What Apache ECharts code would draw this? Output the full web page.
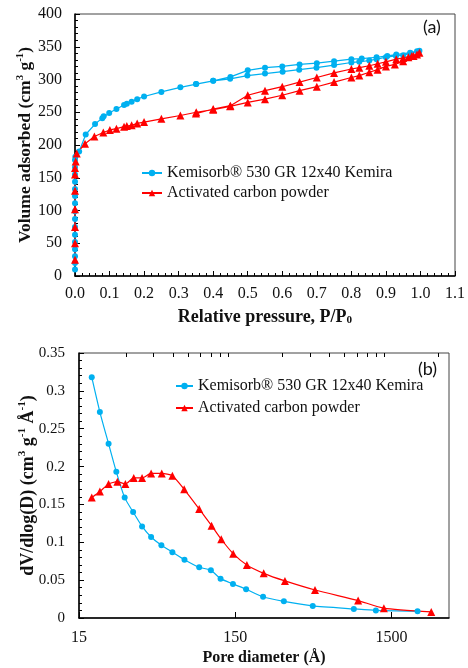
<!DOCTYPE html>
<html>
<head>
<meta charset="utf-8">
<script src="https://cdn.jsdelivr.net/npm/echarts@6/dist/echarts.min.js"></script>
<style>
  html, body { margin: 0; padding: 0; background: #fff; }
  #main { width: 468px; height: 668px; }
</style>
</head>
<body>
<div id="main"></div>
<script>
// (a) isotherms - relative pressure P/P0 and volume adsorbed (cm3/g)
const kemAdsP = [0, 0, 0, 0, 0, 0, 0, 0, 0, 0, 0, 0, 0, 0, 0, 0, 0.001, 0.012, 0.031, 0.058, 0.079, 0.083, 0.099, 0.12, 0.142, 0.15, 0.164, 0.18, 0.2, 0.25, 0.305, 0.351, 0.4, 0.449, 0.499, 0.55, 0.601, 0.649, 0.699, 0.75, 0.8, 0.823, 0.852, 0.873, 0.9, 0.929, 0.95, 0.972, 0.997];
const kemAdsV = [10, 20, 30, 41, 52, 63, 75, 87, 99, 111, 122, 133, 144, 155, 166, 177, 182, 190, 216, 232, 241, 244, 249, 255, 261, 263, 266, 270, 274, 281, 288, 293, 298, 301, 306, 309, 312, 315, 318, 322, 326, 327, 329, 331, 334, 336, 337, 340, 344];
const kemDesP = [0.99, 0.97, 0.93, 0.904, 0.873, 0.83, 0.8, 0.75, 0.7, 0.65, 0.6, 0.55, 0.5, 0.45, 0.4, 0.35];
const kemDesV = [343, 341, 338, 336, 334, 332, 331, 328, 325, 323, 320, 318, 314, 304, 298, 293];

const acAdsP = [0, 0, 0, 0, 0, 0, 0, 0.002, 0.005, 0.029, 0.056, 0.082, 0.101, 0.12, 0.142, 0.15, 0.164, 0.18, 0.2, 0.25, 0.305, 0.351, 0.4, 0.449, 0.5, 0.55, 0.6, 0.65, 0.7, 0.75, 0.8, 0.823, 0.852, 0.876, 0.9, 0.926, 0.95, 0.965, 0.98, 0.997];
const acAdsV = [25, 50, 75, 102, 130, 155, 165, 175, 187, 202, 213, 219, 223, 225, 228, 229, 230, 233, 235, 240, 245, 250, 254, 259, 265, 270, 276, 283, 289, 296, 303, 306, 311, 315, 320, 323, 328, 334, 336, 341];
const acDesP = [0.99, 0.975, 0.95, 0.93, 0.9, 0.876, 0.852, 0.823, 0.8, 0.75, 0.7, 0.65, 0.6, 0.55, 0.5, 0.45, 0.4, 0.35];
const acDesV = [338, 336, 333, 331, 327, 324, 321, 318, 316, 310, 303, 296, 289, 283, 276, 260, 255, 248];

// (b) pore size distribution - pore diameter (Å) and dV/dlog(D)
const kemPoreD = [18.1, 20.4, 23.2, 26.0, 29.4, 33.3, 38.0, 43.4, 50.5, 59.4, 71.0, 88.2, 104.7, 120.8, 145, 176, 226, 307, 470, 861, 1191, 2202];
const kemPoreV = [0.318, 0.272, 0.230, 0.193, 0.159, 0.140, 0.121, 0.107, 0.096, 0.087, 0.077, 0.067, 0.063, 0.052, 0.045, 0.038, 0.028, 0.022, 0.016, 0.012, 0.010, 0.009];
const acPoreD = [18.1, 20.4, 23.2, 26.4, 29.7, 33.6, 38.0, 43.4, 50.8, 59.4, 70.7, 88.2, 105.8, 122, 145.5, 178, 228, 312, 486, 917, 1340, 2694];
const acPoreV = [0.159, 0.167, 0.177, 0.180, 0.177, 0.185, 0.185, 0.191, 0.191, 0.188, 0.170, 0.144, 0.122, 0.104, 0.085, 0.070, 0.059, 0.049, 0.037, 0.023, 0.013, 0.008];

const poreMajorTicks = [15, 150, 1500];
const poreMinorTicks = [30, 45, 60, 75, 90, 105, 120, 135, 300, 450, 600, 750, 900, 1050, 1200, 1350, 3000];

const kemName = 'Kemisorb® 530 GR 12x40 Kemira';
const acName = 'Activated carbon powder';
const blue = '#00B0F0';
const red = '#FF0000';
const serif = 'Liberation Serif';

function pairs(xs, ys) {
  return xs.map((x, i) => [x, ys[i]]);
}

function richName(size) {
  return {
    b: { fontFamily: serif, fontSize: size, fontWeight: 'bold', color: '#111', lineHeight: size + 2, verticalAlign: 'bottom' },
    s: { fontFamily: serif, fontSize: size * 0.62, fontWeight: 'bold', color: '#111', lineHeight: size + 2, verticalAlign: 'top' },
    d: { fontFamily: serif, fontSize: size * 0.62, fontWeight: 'bold', color: '#111', lineHeight: size - 3, verticalAlign: 'bottom' }
  };
}

const tickLabel = { fontFamily: serif, fontSize: 16, color: '#111' };
const axisLine = { show: true, lineStyle: { color: '#000', width: 1.5 } };
const legendText = { fontFamily: serif, fontSize: 16, color: '#111' };

const chart = echarts.init(document.getElementById('main'));
chart.setOption({
  animation: false,
  backgroundColor: '#fff',
  title: [
    { text: '(a)', left: 423, top: 18, padding: 0, textStyle: { fontFamily: 'Lato', fontSize: 18, fontWeight: 'normal', color: '#111' } },
    { text: '(b)', left: 418, top: 360, padding: 0, textStyle: { fontFamily: 'Lato', fontSize: 18, fontWeight: 'normal', color: '#111' } }
  ],
  grid: [
    { left: 75, top: 14, width: 380, height: 262, show: true, borderColor: '#444', borderWidth: 1 },
    { left: 79, top: 353, width: 370, height: 265, show: true, borderColor: '#444', borderWidth: 1 }
  ],
  legend: [
    {
      data: [kemName, acName], orient: 'vertical', left: 141, top: 165, padding: 0,
      itemWidth: 20, itemHeight: 8, itemGap: 4,
      textStyle: legendText
    },
    {
      data: [kemName, acName], orient: 'vertical', left: 175, top: 378, padding: 0,
      itemWidth: 17, itemHeight: 8, itemGap: 6,
      textStyle: legendText
    }
  ],
  xAxis: [
    {
      type: 'value', gridIndex: 0, min: 0, max: 1.1, interval: 0.1,
      name: '{b|Relative pressure, P/P}{d|0}', nameLocation: 'middle', nameGap: 30,
      nameTextStyle: { rich: richName(18) },
      axisLine: axisLine,
      axisTick: { inside: true, length: 5, lineStyle: { color: '#000' } },
      minorTick: { show: true, splitNumber: 5, length: 3, lineStyle: { color: '#000' } },
      axisLabel: Object.assign({ margin: 10, formatter: v => v.toFixed(1) }, tickLabel),
      splitLine: { show: false }
    },
    {
      type: 'log', gridIndex: 1, logBase: 10, min: 15, max: 3500,
      name: 'Pore diameter (Å)', nameLocation: 'middle', nameGap: 32,
      nameTextStyle: { fontFamily: serif, fontSize: 16, fontWeight: 'bold', color: '#111' },
      axisLine: axisLine,
      axisTick: { inside: true, length: 6, customValues: poreMajorTicks, lineStyle: { color: '#000' } },
      axisLabel: Object.assign({ margin: 12, customValues: poreMajorTicks, formatter: v => String(Math.round(v)) }, tickLabel),
      splitLine: { show: false }
    },
    {
      type: 'log', gridIndex: 1, logBase: 10, min: 15, max: 3500,
      axisLine: { show: false },
      axisTick: { inside: true, length: 4, customValues: poreMinorTicks, lineStyle: { color: '#000' } },
      axisLabel: { show: false },
      splitLine: { show: false }
    }
  ],
  yAxis: [
    {
      type: 'value', gridIndex: 0, min: 0, max: 400, interval: 50,
      name: '{b|Volume adsorbed (cm}{s|3}{b| g}{s|-1}{b|)}', nameLocation: 'middle', nameGap: 41, nameRotate: 90,
      nameMoveOverlap: false,
      nameTextStyle: { rich: richName(17.5) },
      axisLine: axisLine,
      axisTick: { inside: true, length: 5, lineStyle: { color: '#000' } },
      minorTick: { show: true, splitNumber: 5, length: 3, lineStyle: { color: '#000' } },
      axisLabel: Object.assign({ margin: 13 }, tickLabel),
      splitLine: { show: false }
    },
    {
      type: 'value', gridIndex: 1, min: 0, max: 0.35, interval: 0.05,
      name: '{b|dV/dlog(D) (cm}{s|3}{b| g}{s|-1}{b| Å}{s|-1}{b|)}', nameLocation: 'middle', nameGap: 42, nameRotate: 90,
      nameMoveOverlap: false,
      nameTextStyle: { rich: richName(18) },
      axisLine: axisLine,
      axisTick: { inside: true, length: 5, lineStyle: { color: '#000' } },
      minorTick: { show: true, splitNumber: 5, length: 3, lineStyle: { color: '#000' } },
      axisLabel: Object.assign({ margin: 14 }, tickLabel, { fontSize: 15 }),
      splitLine: { show: false }
    }
  ],
  series: [
    {
      name: kemName, type: 'line', xAxisIndex: 0, yAxisIndex: 0,
      data: pairs(kemAdsP.concat(kemDesP), kemAdsV.concat(kemDesV)),
      symbol: 'circle', symbolSize: 6, color: blue,
      lineStyle: { width: 1.2 }
    },
    {
      name: acName, type: 'line', xAxisIndex: 0, yAxisIndex: 0,
      data: pairs(acAdsP.concat(acDesP), acAdsV.concat(acDesV)),
      symbol: 'triangle', symbolSize: 8, color: red,
      lineStyle: { width: 1.2 }
    },
    {
      name: kemName, type: 'line', xAxisIndex: 1, yAxisIndex: 1,
      data: pairs(kemPoreD, kemPoreV), smooth: 0.2,
      symbol: 'circle', symbolSize: 6, color: blue,
      lineStyle: { width: 1.2 }
    },
    {
      name: acName, type: 'line', xAxisIndex: 1, yAxisIndex: 1,
      data: pairs(acPoreD, acPoreV), smooth: 0.2,
      symbol: 'triangle', symbolSize: 8, color: red,
      lineStyle: { width: 1.2 }
    }
  ]
});
</script>
</body>
</html>
